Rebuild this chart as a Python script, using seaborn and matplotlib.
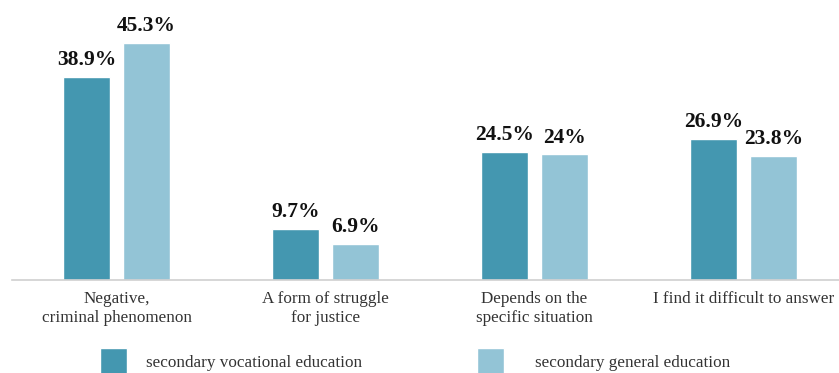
import matplotlib.pyplot as plt
import seaborn as sns
import pandas as pd


categories = [
    "Negative,\ncriminal phenomenon",
    "A form of struggle\nfor justice",
    "Depends on the\nspecific situation",
    "I find it difficult to answer",
]
groups = ["secondary vocational education", "secondary general education"]
vocational = [38.9, 9.7, 24.5, 26.9]
general = [45.3, 6.9, 24.0, 23.8]

colors = ["#4497b0", "#93c4d6"]


def main():
    df = pd.DataFrame({
        "category": categories * 2,
        "group": [groups[0]] * len(categories) + [groups[1]] * len(categories),
        "value": vocational + general,
    })

    sns.set_style("white")
    plt.rcParams["font.family"] = ["Liberation Serif", "DejaVu Serif"]

    fig = plt.figure(figsize=(8.39, 3.73), dpi=100)
    ax = fig.add_axes([12 / 839, 93 / 373, 836 / 839, 261.5 / 373])

    sns.barplot(df, x="category", y="value", hue="group", palette=colors,
                width=0.574, gap=0.215, saturation=1, ax=ax, legend=True)

    for cont in ax.containers:
        ax.bar_label(cont, labels=[f"{v:g}%" for v in cont.datavalues],
                     padding=5, fontsize=15.5, fontweight="bold", color="#111111")

    ax.set_xlim(-0.5, 3.5)
    ax.set_ylim(0, 50)
    ax.set_xlabel("")
    ax.set_ylabel("")
    ax.set_yticks([])
    for side in ["left", "right", "top"]:
        ax.spines[side].set_visible(False)
    ax.spines["bottom"].set_color("#d0d0d0")
    ax.spines["bottom"].set_linewidth(1.2)
    ax.tick_params(axis="x", length=0, pad=8, labelsize=12.3, labelcolor="#333333")
    for lab in ax.get_xticklabels():
        lab.set_linespacing(1.2)

    # two separate legend entries, spaced like the original
    handles, labels = ax.get_legend_handles_labels()
    ax.get_legend().remove()
    kw = dict(loc="upper left", bbox_transform=fig.transFigure, frameon=False,
              fontsize=12.3, handlelength=1.6, handleheight=2.0,
              borderaxespad=0, borderpad=0, labelcolor="#333333")
    fig.legend(handles[:1], labels[:1], bbox_to_anchor=(100 / 839, 25 / 373),
               handletextpad=1.1, **kw)
    fig.legend(handles[1:], labels[1:], bbox_to_anchor=(477 / 839, 25 / 373),
               handletextpad=1.8, **kw)

    plt.savefig("out.png", dpi=100)


if __name__ == "__main__":
    main()
